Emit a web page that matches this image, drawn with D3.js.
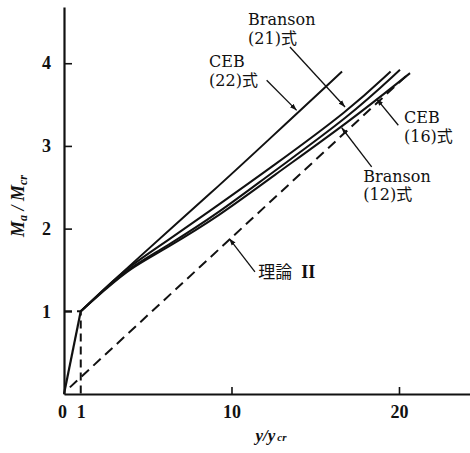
<!DOCTYPE html>
<html><head><meta charset="utf-8">
<script src="https://cdn.jsdelivr.net/npm/d3@7"></script>
<style>
html,body{margin:0;padding:0;background:#fff;}
svg{display:block;}
text{font-family:"Liberation Serif","DejaVu Serif",serif;fill:#111;}
.ann{font-family:"DejaVu Serif","Noto Sans CJK JP",serif;}
.cjk{font-family:"Noto Sans CJK JP","Noto Sans CJK SC",sans-serif;}
</style>
</head><body>
<script>
// ---- data ----
const xTicks = [0, 1, 10, 20];
const yTicks = [1, 2, 3, 4];
const elasticX = [0, 1];
const elasticY = [0, 1];
const ceb22X = [1, 4, 9, 12.3, 16.6];
const ceb22Y = [1, 1.57, 2.47, 3.09, 3.90];
const branson21X = [1, 2.5, 3.94, 6, 9.31, 12.3, 17.07, 19.5];
const branson21Y = [1, 1.29, 1.55, 1.83, 2.30, 2.73, 3.44, 3.90];
const branson12X = [1, 2.5, 3.94, 6, 9.31, 12.3, 17.07, 20.06];
const branson12Y = [1, 1.28, 1.53, 1.77, 2.20, 2.66, 3.36, 3.92];
const ceb16X = [1, 2.5, 3.94, 6, 9.31, 12.3, 17.07, 20.66];
const ceb16Y = [1, 1.27, 1.52, 1.75, 2.16, 2.61, 3.30, 3.88];
const theory2X = [0.35, 20.66];
const theory2Y = [0.08, 3.89];
const crackX = [0, 1, 1];
const crackY = [1, 1, 0];
// annotations (data coords): label lines, label anchor, leader start, leader tip
const annotations = [
  {lines:["CEB","(22)式"], lx:8.66, ly:3.95, x1:12.1, y1:3.795, x2:13.89, y2:3.43},
  {lines:["Branson","(21)式"], lx:10.99, ly:4.46, x1:13.49, y1:4.197, x2:16.78, y2:3.47},
  {lines:["CEB","(16)式"], lx:20.3, ly:3.275, x1:19.96, y1:3.25, x2:18.67, y2:3.57},
  {lines:["Branson","(12)式"], lx:17.87, ly:2.566, x1:18.37, y1:2.747, x2:16.58, y2:3.22}
];
const theoryLabel = {text:"理論", roman:"II", lx:11.6, ly:1.40, x1:11.4, y1:1.478, x2:9.87, y2:1.88};

// ---- chart ----
const W = 470, H = 453;
const svg = d3.select("body").append("svg").attr("width", W).attr("height", H);
const x = d3.scaleLinear().domain([0, 24.24]).range([64, 470]);
const y = d3.scaleLinear().domain([0, 4.68]).range([394, 7]);

const defs = svg.append("defs");
defs.append("marker").attr("id","arr").attr("viewBox","0 0 10 10")
  .attr("refX",10).attr("refY",5).attr("markerWidth",7).attr("markerHeight",7)
  .attr("orient","auto").attr("markerUnits","userSpaceOnUse")
  .append("path").attr("d","M0,1.5 L10,5 L0,8.5 Z").attr("fill","#111");

// axes
const xAxis = d3.axisBottom(x).tickValues(xTicks).tickSizeInner(-7).tickSizeOuter(0).tickPadding(10)
  .tickFormat(d3.format("d"));
const gx = svg.append("g").attr("transform", `translate(0,${y(0)})`).call(xAxis);
gx.select(".domain").attr("stroke","#111").attr("stroke-width",2.2);
gx.selectAll(".tick line").attr("stroke","#111").attr("stroke-width",1.6)
  .filter(d => d === 0 || d === 1).remove();
gx.selectAll(".tick text").attr("font-family","Liberation Serif").attr("font-size",18)
  .attr("font-weight","bold").attr("fill","#111").attr("dy","0.8em")
  .attr("dx", d => d === 0 ? -2 : 0);

const yAxis = d3.axisLeft(y).tickValues(yTicks).tickSizeInner(-8).tickSizeOuter(0).tickPadding(13)
  .tickFormat(d3.format("d"));
const gy = svg.append("g").attr("transform", `translate(${x(0)},0)`).call(yAxis);
gy.select(".domain").attr("stroke","#111").attr("stroke-width",2.2);
gy.selectAll(".tick line").attr("stroke","#111").attr("stroke-width",1.6);
gy.selectAll(".tick text").attr("font-family","Liberation Serif").attr("font-size",18)
  .attr("font-weight","bold").attr("fill","#111");

// lines
const straight = d3.line().x(d => x(d[0])).y(d => y(d[1]));
const smooth = d3.line().x(d => x(d[0])).y(d => y(d[1])).curve(d3.curveBasis);
const zip = (a, b) => a.map((v, i) => [v, b[i]]);

svg.append("path").datum(zip(crackX, crackY)).attr("d", straight)
  .attr("fill","none").attr("stroke","#111").attr("stroke-width",2).attr("stroke-dasharray","8,5");
svg.append("path").datum(zip(theory2X, theory2Y)).attr("d", straight)
  .attr("fill","none").attr("stroke","#111").attr("stroke-width",2).attr("stroke-dasharray","10,6");
svg.append("path").datum(zip(elasticX, elasticY)).attr("d", straight)
  .attr("fill","none").attr("stroke","#111").attr("stroke-width",2.2);

[[ceb22X, ceb22Y], [branson21X, branson21Y], [branson12X, branson12Y], [ceb16X, ceb16Y]]
  .forEach(([xs, ys]) => {
    svg.append("path").datum(zip(xs, ys)).attr("d", smooth)
      .attr("fill","none").attr("stroke","#111").attr("stroke-width",2)
      .attr("stroke-linejoin","round");
  });

// annotations
annotations.forEach(a => {
  svg.append("line").attr("x1",x(a.x1)).attr("y1",y(a.y1)).attr("x2",x(a.x2)).attr("y2",y(a.y2))
    .attr("stroke","#111").attr("stroke-width",1.3).attr("marker-end","url(#arr)");
  a.lines.forEach((s, i) => {
    svg.append("text").attr("class","ann").attr("x", x(a.lx)).attr("y", y(a.ly) + i * 18.5)
      .attr("font-size",16).text(s);
  });
});

svg.append("line").attr("x1",x(theoryLabel.x1)).attr("y1",y(theoryLabel.y1))
  .attr("x2",x(theoryLabel.x2)).attr("y2",y(theoryLabel.y2))
  .attr("stroke","#111").attr("stroke-width",1.3).attr("marker-end","url(#arr)");
svg.append("text").attr("class","cjk").attr("x", x(theoryLabel.lx)).attr("y", y(theoryLabel.ly))
  .attr("font-size",17).text(theoryLabel.text);
svg.append("text").attr("x", x(theoryLabel.lx) + 43).attr("y", y(theoryLabel.ly))
  .attr("font-size",18).attr("font-weight","bold").text(theoryLabel.roman);

// axis titles
const yl = svg.append("text").attr("transform","translate(24,206) rotate(-90)")
  .attr("text-anchor","middle").attr("font-size",18).attr("font-style","italic").attr("font-weight","bold");
yl.append("tspan").text("M");
yl.append("tspan").attr("font-size",12).attr("dy",3).text("a");
yl.append("tspan").attr("dy",-3).text(" / M");
yl.append("tspan").attr("font-size",12).attr("dy",3).text("cr");

const xl = svg.append("text").attr("x",271).attr("y",441)
  .attr("text-anchor","middle").attr("font-size",17).attr("font-style","italic").attr("font-weight","bold");
xl.append("tspan").text("y/y");
xl.append("tspan").attr("font-size",11).attr("dx",2).text("cr");
</script>
</body></html>
